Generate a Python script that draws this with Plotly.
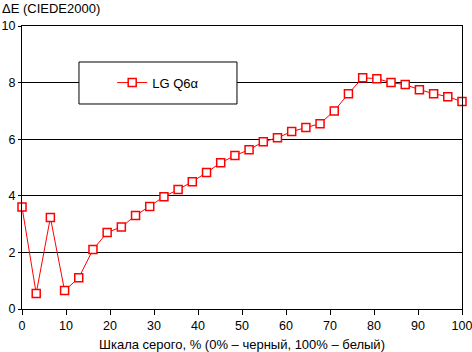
import plotly.graph_objects as go

gray_pct = [round(i * 100 / 31, 2) for i in range(32)]
delta_e = [3.6, 0.55, 3.23, 0.65, 1.1, 2.1, 2.7, 2.9, 3.3, 3.62, 3.97, 4.22, 4.5, 4.82,
           5.17, 5.42, 5.63, 5.91, 6.05, 6.27, 6.41, 6.55, 7.0, 7.61, 8.17, 8.14, 8.0,
           7.93, 7.75, 7.61, 7.5, 7.33]
series_name = "LG Q6α"
y_title = "ΔE (CIEDE2000)"
x_title = "Шкала серого, % (0% – черный, 100% – белый)"

FONT = "Liberation Sans, Arial, sans-serif"

fig = go.Figure()
fig.add_trace(go.Scatter(
    x=gray_pct, y=delta_e, mode="lines+markers", name=series_name,
    line=dict(color="#ff0000", width=1),
    marker=dict(symbol="square", size=8, color="white",
                line=dict(color="#ff0000", width=1.5)),
    cliponaxis=False,
))

fig.update_layout(
    width=472, height=352,
    margin=dict(l=22, r=10, t=26, b=43),
    paper_bgcolor="white", plot_bgcolor="white",
    font=dict(family=FONT, size=12, color="black"),
    showlegend=True,
    legend=dict(x=0.205, y=0.8, xanchor="left", yanchor="middle",
                bgcolor="rgba(0,0,0,0)", borderwidth=0,
                font=dict(family=FONT, size=13, color="black")),
    xaxis=dict(range=[0, 100], tick0=0, dtick=10, showgrid=False,
               showline=True, linecolor="black", linewidth=1, mirror=True,
               ticks="outside", ticklen=5, tickcolor="black", zeroline=False,
               automargin=False, ticklabeloverflow="allow",
               tickfont=dict(family=FONT, size=12.5),
               title=dict(text=x_title, standoff=9,
                          font=dict(family=FONT, size=13))),
    yaxis=dict(range=[0, 10], tick0=0, dtick=2, showgrid=True,
               gridcolor="black", gridwidth=1,
               showline=True, linecolor="black", linewidth=1, mirror=True,
               ticks="outside", ticklen=3, tickcolor="black", zeroline=False,
               automargin=False, ticklabeloverflow="allow",
               tickfont=dict(family=FONT, size=12.5)),
    shapes=[dict(type="rect", xref="paper", yref="paper",
                 x0=0.1295, x1=0.4886, y0=0.7244, y1=0.8728,
                 line=dict(color="black", width=1), fillcolor="white",
                 layer="above")],
    annotations=[dict(text=y_title, xref="paper", yref="paper",
                      x=-0.05, y=1.0, xanchor="left", yanchor="bottom",
                      yshift=8, showarrow=False,
                      font=dict(family=FONT, size=13, color="black"))],
)

fig.write_html("out.html")
